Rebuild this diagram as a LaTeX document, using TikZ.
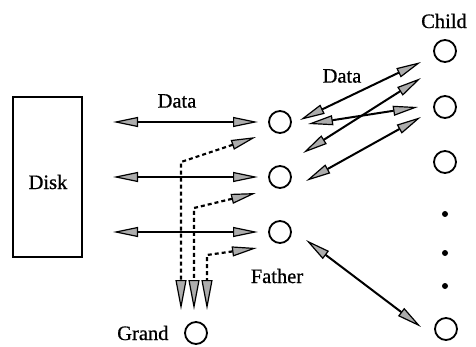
\documentclass[tikz,border=0pt]{standalone}
\usepackage{fontspec}
\setmainfont{Liberation Serif}[FakeBold=0.7]
\usetikzlibrary{arrows.meta}
\tikzset{
  headtip/.tip={Triangle[length=25pt,width=10pt,fill=gray!65,line width=1.2pt]},
  downtip/.tip={Triangle[length=30pt,width=11pt,fill=gray!65,line width=1.2pt]}}
\begin{document}
\begin{tikzpicture}[x=1pt,y=-1pt,
  proc/.style={circle,draw,line width=1.8pt,minimum size=22pt,inner sep=0pt},
  lbl/.style={font=\fontsize{20.5}{22}\selectfont},
  link/.style={line width=2pt,headtip-headtip},
  dlink/.style={line width=2.2pt,dash pattern=on 4pt off 3pt,headtip-downtip},
  dotnode/.style={circle,fill,inner sep=0pt,minimum size=6pt}]
\useasboundingbox (0,0) rectangle (476,347);

% disk
\node[draw,line width=2.2pt,minimum width=69pt,minimum height=160pt,inner sep=0pt] (disk) at (47.5,177) {};
\node[lbl] (dlab) at (48,182) {Disk};

% father processes
\node[proc] (f1) at (280,122) {};
\node[proc] (f2) at (280,177) {};
\node[proc] (f3) at (280,232) {};
\node[lbl] (flab) at (277,276) {Father};

% child processes
\node[lbl] (clab) at (444,21) {Child};
\node[proc] (c1) at (445,51) {};
\node[proc] (c2) at (445,107) {};
\node[proc] (c3) at (445,162) {};
\node[dotnode] (d1) at (445,214) {};
\node[dotnode] (d2) at (445,253) {};
\node[dotnode] (d3) at (445,286) {};
\node[proc] (c4) at (446,329) {};

% grand process
\node[proc] (g) at (196,333) {};
\node[lbl,anchor=east] (glab) at (172,333) {Grand};

% disk <-> father data paths
\coordinate (a1l) at (113,122); \coordinate (a1r) at (258,122);
\coordinate (a2l) at (113,177); \coordinate (a2r) at (258,177);
\coordinate (a3l) at (113,232); \coordinate (a3r) at (258,232);
\draw[link] (a1l) -- (a1r);
\draw[link] (a2l) -- (a2r);
\draw[link] (a3l) -- (a3r);
\node[lbl] (dl1) at (177,101) {Data};

% father <-> grand control paths
\coordinate (p1) at (256,137); \coordinate (k1) at (181,162); \coordinate (q1) at (181,310);
\coordinate (p2) at (256,193); \coordinate (k2) at (194,208); \coordinate (q2) at (194,310);
\coordinate (p3) at (257,248); \coordinate (k3) at (207,255); \coordinate (q3) at (207,310);
\draw[dlink] (p1) -- (k1) -- (q1);
\draw[dlink] (p2) -- (k2) -- (q2);
\draw[dlink] (p3) -- (k3) -- (q3);

% father <-> child data paths
\node[lbl] (dl2) at (342,76) {Data};
\coordinate (s1) at (300,120); \coordinate (t1) at (421,62);
\coordinate (s2) at (308,124); \coordinate (t2) at (418,107);
\coordinate (s3) at (303,153); \coordinate (t3) at (421,78);
\coordinate (s4) at (306,181); \coordinate (t4) at (421,117);
\coordinate (s5) at (306,240); \coordinate (t5) at (421,327);
\draw[link] (s1) -- (t1);
\draw[link] (s2) -- (t2);
\draw[link] (s3) -- (t3);
\draw[link] (s4) -- (t4);
\draw[link] (s5) -- (t5);
\end{tikzpicture}
\end{document}
